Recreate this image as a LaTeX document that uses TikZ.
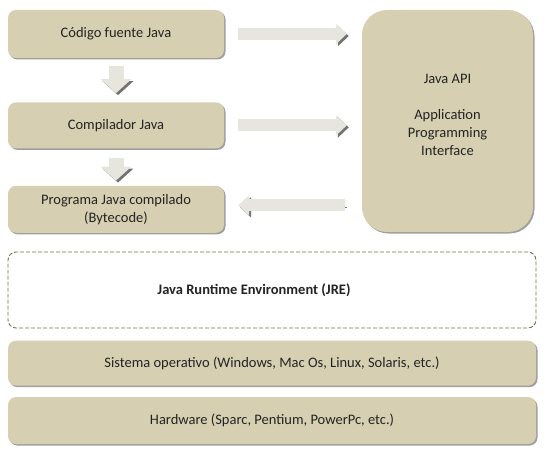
\documentclass[tikz,border=0pt]{standalone}
\usepackage{fontspec}
\setmainfont{Carlito}
\usepackage{xcolor}
\usepackage{tikz}
\usetikzlibrary{positioning,backgrounds,arrows.meta,shadows}
\definecolor{sable}{RGB}{214,207,178}
\definecolor{ombre}{RGB}{135,135,130}
\definecolor{ombre fleche}{RGB}{115,115,110}
\definecolor{perle}{RGB}{230,230,222}
\definecolor{cadre}{RGB}{120,110,80}
\definecolor{encre}{RGB}{35,35,35}

\begin{document}
\begin{tikzpicture}[x=1pt,y=1pt]
        \tikzset{
          node distance=44pt and 0pt,
          boite/.style={
            fill=sable,draw=none,align=center,inner sep=0pt,
            font=\fontsize{14.5}{18}\selectfont,text=encre,
            rounded corners=8pt,
          },
          boite ombree/.style={boite,
            drop shadow={shadow xshift=1.5pt,shadow yshift=-1.5pt,fill=ombre,opacity=0.8},
          },
          boite etroite/.style={boite ombree,minimum width=216pt,minimum height=47pt},
          boite large/.style={boite ombree,minimum width=528pt,minimum height=46pt},
          fleche/.style={
            draw=perle,line width=12pt,-{Triangle[width=20pt,length=11pt]},
            preaction={draw=ombre fleche,transform canvas={shift={(2pt,-2pt)}}},
          },
          grosse fleche/.style={fleche,line width=15pt,-{Triangle[width=30pt,length=14pt]}},
          }
        \useasboundingbox (0,0) rectangle (549,-460);
        \node[boite etroite, minimum height=48pt] (a) at (116,-34) {Código fuente Java};
        \node[boite etroite, minimum height=46pt, below=of a] (b) {Compilador Java};
        \node[boite etroite, below=37pt of b] (c) {Programa Java compilado\\(Bytecode)};
        \node[boite ombree, rounded corners=25pt, minimum width=171pt, minimum height=222pt] (d) at (447.5,-121)
            {Java API\\[18pt]Application\\Programming\\Interface\\[-6pt]};
        \node[boite, fill=white, draw=cadre, line width=0.9pt, dash pattern=on 4pt off 2pt, minimum width=528pt, minimum height=76pt] (e) at (272,-290)
            {\bfseries Java Runtime Environment (JRE)\hspace{36pt}};
        \node[boite large, minimum height=45pt, below=12pt of e] (f) {Sistema operativo (Windows, Mac Os, Linux, Solaris, etc.)};
        \node[boite large, minimum height=47pt, below=11pt of f] (g) {Hardware (Sparc, Pentium, PowerPc, etc.)};
        \coordinate (cb) at ([yshift=4pt]c.east); % retour un peu au-dessus du milieu

        \begin{scope}[on background layer]
            \draw[grosse fleche, shorten <=8pt, shorten >=9pt]
            (a.south) -- (b.north);
            \draw[grosse fleche, shorten <=9pt, shorten >=5pt]
            (b.south) -- (c.north);
            \draw[fleche, shorten <=14pt, shorten >=15pt]
            (a.east) -- (d.west |- a.east);
            \draw[fleche, shorten <=14pt, shorten >=15pt]
            (b.east) -- (d.west |- b.east);
            \draw[fleche, shorten <=17pt, shorten >=14pt]
            (d.west |- cb) -- (cb);
        \end{scope}
      \end{tikzpicture}
\end{document}
